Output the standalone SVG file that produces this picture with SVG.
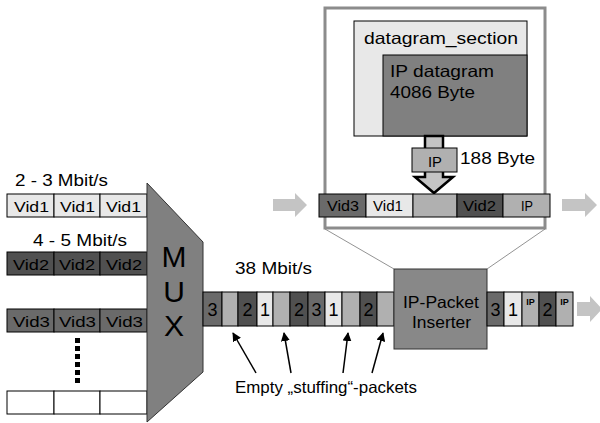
<svg xmlns="http://www.w3.org/2000/svg" width="600" height="423" viewBox="0 0 600 423">
  <defs>
    <style>
      text { font-family: "Liberation Sans", Arial, sans-serif; fill: #000; }
      .t16 { font-size: 16.5px; }
      .t15 { font-size: 15.5px; }
      .t18 { font-size: 18px; }
      .cell { stroke: #000; stroke-width: 1; }
      .lt { fill: #e8e8e8; }
      .gy { fill: #b0b0b0; }
      .md { fill: #6a6a6a; }
      .dk { fill: #505050; }
      .wh { fill: #ffffff; }
      .flow { fill: #c4c4c4; }
      .ptr { stroke: #000; stroke-width: 1.5; fill: none; }
    </style>
    <marker id="tip" viewBox="0 0 10 10" refX="9" refY="5" markerWidth="9" markerHeight="9" orient="auto" markerUnits="userSpaceOnUse">
      <path d="M0,0 L10,5 L0,10 z" fill="#000"/>
    </marker>
  </defs>

  <!-- input streams -->
  <g id="stream-vid1">
    <text class="t16" x="15" y="186" textLength="93" lengthAdjust="spacingAndGlyphs">2 - 3 Mbit/s</text>
    <rect class="cell lt" x="7" y="194" width="47" height="23"/>
    <rect class="cell lt" x="54" y="194" width="46" height="23"/>
    <rect class="cell lt" x="100" y="194" width="47" height="23"/>
    <text class="t15" x="14" y="212" textLength="35" lengthAdjust="spacingAndGlyphs">Vid1</text>
    <text class="t15" x="60" y="212" textLength="35" lengthAdjust="spacingAndGlyphs">Vid1</text>
    <text class="t15" x="106" y="212" textLength="35" lengthAdjust="spacingAndGlyphs">Vid1</text>
  </g>
  <g id="stream-vid2">
    <text class="t16" x="33" y="246" textLength="94" lengthAdjust="spacingAndGlyphs">4 - 5 Mbit/s</text>
    <rect class="cell dk" x="7" y="252" width="47" height="23"/>
    <rect class="cell dk" x="54" y="252" width="46" height="23"/>
    <rect class="cell dk" x="100" y="252" width="47" height="23"/>
    <text class="t15" x="13" y="270" textLength="36" lengthAdjust="spacingAndGlyphs">Vid2</text>
    <text class="t15" x="59" y="270" textLength="36" lengthAdjust="spacingAndGlyphs">Vid2</text>
    <text class="t15" x="106" y="270" textLength="36" lengthAdjust="spacingAndGlyphs">Vid2</text>
  </g>
  <g id="stream-vid3">
    <rect class="cell md" x="7" y="309" width="47" height="23"/>
    <rect class="cell md" x="54" y="309" width="46" height="23"/>
    <rect class="cell md" x="100" y="309" width="47" height="23"/>
    <text class="t15" x="13" y="327" textLength="37" lengthAdjust="spacingAndGlyphs">Vid3</text>
    <text class="t15" x="59" y="327" textLength="37" lengthAdjust="spacingAndGlyphs">Vid3</text>
    <text class="t15" x="106" y="327" textLength="37" lengthAdjust="spacingAndGlyphs">Vid3</text>
  </g>
  <g id="more-streams">
    <g fill="#000">
      <rect x="75" y="338" width="5" height="5"/>
      <rect x="75" y="346" width="5" height="5"/>
      <rect x="75" y="354" width="5" height="5"/>
      <rect x="75" y="362" width="5" height="5"/>
      <rect x="75" y="370" width="5" height="5"/>
      <rect x="75" y="378" width="5" height="5"/>
    </g>
    <rect class="cell wh" x="7" y="391" width="47" height="23"/>
    <rect class="cell wh" x="54" y="391" width="46" height="23"/>
    <rect class="cell wh" x="100" y="391" width="47" height="23"/>
  </g>

  <!-- multiplexer -->
  <g id="mux">
    <polygon points="147,183 203,242 203,372 147,422" fill="#808080" stroke="#333" stroke-width="1"/>
    <text x="174" y="267" font-size="30" text-anchor="middle">M</text>
    <text x="174" y="302" font-size="30" text-anchor="middle">U</text>
    <text x="174" y="336" font-size="30" text-anchor="middle">X</text>
  </g>

  <!-- 38 Mbit/s transport stream -->
  <g id="ts-stream">
    <text class="t16" x="235" y="274" textLength="77" lengthAdjust="spacingAndGlyphs">38 Mbit/s</text>
    <rect class="cell md" x="203" y="292" width="19" height="34"/>
    <rect class="cell gy" x="222" y="292" width="16" height="34"/>
    <rect class="cell dk" x="238" y="292" width="19" height="34"/>
    <rect class="cell lt" x="257" y="292" width="16" height="34"/>
    <rect class="cell gy" x="273" y="292" width="17" height="34"/>
    <rect class="cell dk" x="290" y="292" width="18" height="34"/>
    <rect class="cell md" x="308" y="292" width="17" height="34"/>
    <rect class="cell lt" x="325" y="292" width="17" height="34"/>
    <rect class="cell gy" x="342" y="292" width="18" height="34"/>
    <rect class="cell dk" x="360" y="292" width="17" height="34"/>
    <rect class="cell gy" x="377" y="292" width="17" height="34"/>
    <g class="t18" text-anchor="middle">
      <text x="212.5" y="316">3</text>
      <text x="247.5" y="316">2</text>
      <text x="265" y="316">1</text>
      <text x="299" y="316">2</text>
      <text x="316.5" y="316">3</text>
      <text x="333.5" y="316">1</text>
      <text x="368.5" y="316">2</text>
    </g>
  </g>

  <!-- stuffing packet callout -->
  <g id="stuffing-label">
    <text class="t16" x="235" y="393" textLength="182" lengthAdjust="spacingAndGlyphs">Empty „stuffing“-packets</text>
  </g>

  <!-- IP packet inserter -->
  <g id="inserter">
    <rect x="394" y="269" width="93" height="80" fill="#888888" stroke="#333" stroke-width="1"/>
    <text class="t16" x="403" y="308" textLength="76" lengthAdjust="spacingAndGlyphs">IP-Packet</text>
    <text class="t16" x="412" y="328" textLength="59" lengthAdjust="spacingAndGlyphs">Inserter</text>
  </g>

  <!-- output stream -->
  <g id="out-stream">
    <rect class="cell md" x="487" y="292" width="17" height="34"/>
    <rect class="cell lt" x="504" y="292" width="18" height="34"/>
    <rect class="cell gy" x="522" y="292" width="17" height="34"/>
    <rect class="cell dk" x="539" y="292" width="17" height="34"/>
    <rect class="cell gy" x="556" y="292" width="17" height="34"/>
    <text class="t18" x="495.5" y="316" text-anchor="middle">3</text>
    <text class="t18" x="513" y="316" text-anchor="middle">1</text>
    <text x="530.5" y="305" font-size="9" font-weight="bold" text-anchor="middle">IP</text>
    <text class="t18" x="547.5" y="316" text-anchor="middle">2</text>
    <text x="564.5" y="305" font-size="9" font-weight="bold" text-anchor="middle">IP</text>
  </g>

  <!-- detail view of the insertion -->
  <g id="detail">
    <rect x="325" y="8" width="220" height="220" fill="#fff" stroke="#8c8c8c" stroke-width="3"/>
    <rect x="354" y="21" width="173" height="115" fill="#e8e8e8" stroke="#000" stroke-width="1"/>
    <text class="t16" x="364" y="44" textLength="154" lengthAdjust="spacingAndGlyphs">datagram_section</text>
    <rect x="383" y="55" width="144" height="81" fill="#808080" stroke="#000" stroke-width="1"/>
    <text class="t16" x="390" y="77" textLength="104" lengthAdjust="spacingAndGlyphs">IP datagram</text>
    <text class="t16" x="390" y="98" textLength="85" lengthAdjust="spacingAndGlyphs">4086 Byte</text>
    <!-- split-off packet moving down -->
    <polygon points="425,136 443,136 443,177 453,177 434,193 415,177 425,177" fill="#c4c4c4" stroke="#000" stroke-width="2.5" stroke-linejoin="miter"/>
    <rect x="412" y="148" width="45" height="24" fill="#b0b0b0" stroke="#000" stroke-width="1"/>
    <text class="t15" x="428" y="167" textLength="14" lengthAdjust="spacingAndGlyphs">IP</text>
    <text class="t16" x="460" y="164" textLength="75" lengthAdjust="spacingAndGlyphs">188 Byte</text>
    <!-- packet strip -->
    <rect class="cell md" x="319" y="194" width="47" height="23"/>
    <rect class="cell lt" x="366" y="194" width="47" height="23"/>
    <rect class="cell gy" x="413" y="194" width="44" height="23"/>
    <rect class="cell dk" x="457" y="194" width="46" height="23"/>
    <rect class="cell gy" x="503" y="194" width="47" height="23"/>
    <text class="t15" x="327" y="211" textLength="32" lengthAdjust="spacingAndGlyphs">Vid3</text>
    <text class="t15" x="373" y="211" textLength="30" lengthAdjust="spacingAndGlyphs">Vid1</text>
    <text class="t15" x="463" y="211" textLength="33" lengthAdjust="spacingAndGlyphs">Vid2</text>
    <text class="t15" x="521" y="211" textLength="12" lengthAdjust="spacingAndGlyphs">IP</text>
  </g>

  <!-- connectors -->
  <g id="connectors">
    <line x1="325" y1="229" x2="394" y2="269" stroke="#777" stroke-width="0.8"/>
    <line x1="545" y1="229" x2="487" y2="269" stroke="#777" stroke-width="0.8"/>
    <line class="ptr" x1="256" y1="373" x2="233" y2="333" marker-end="url(#tip)"/>
    <line class="ptr" x1="291" y1="373" x2="284" y2="333" marker-end="url(#tip)"/>
    <line class="ptr" x1="343" y1="373" x2="348" y2="333" marker-end="url(#tip)"/>
    <line class="ptr" x1="372" y1="373" x2="383" y2="333" marker-end="url(#tip)"/>
    <!-- flow arrows -->
    <polygon class="flow" points="273,199 295,199 295,193 307,205 295,217 295,211 273,211"/>
    <polygon class="flow" points="562,199 585,199 585,193 597,205 585,217 585,211 562,211"/>
    <polygon class="flow" points="577,302 590,302 590,296 602,309 590,322 590,316 577,316"/>
  </g>
</svg>
